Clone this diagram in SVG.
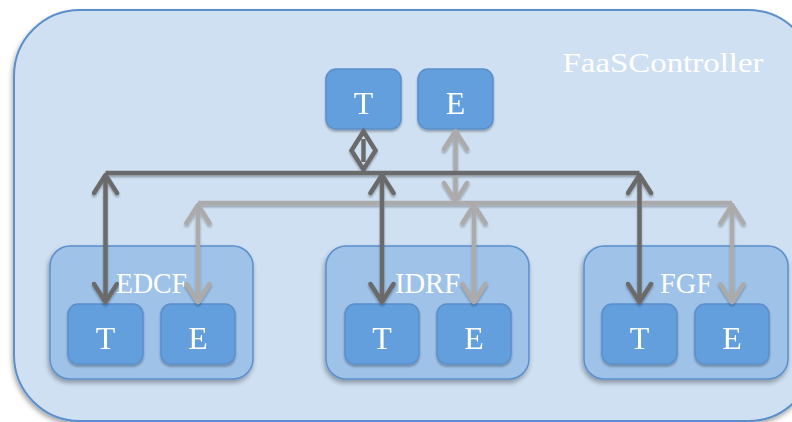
<svg xmlns="http://www.w3.org/2000/svg" width="792" height="422" viewBox="0 0 792 422">
<defs>
<filter id="sh" x="-20%" y="-20%" width="140%" height="150%">
<feGaussianBlur in="SourceAlpha" stdDeviation="2.5"/>
<feOffset dx="-1" dy="3" result="b"/>
<feComponentTransfer><feFuncA type="linear" slope="0.35"/></feComponentTransfer>
<feMerge><feMergeNode/><feMergeNode in="SourceGraphic"/></feMerge>
</filter>
<filter id="lsh" x="-10%" y="-10%" width="120%" height="130%">
<feGaussianBlur in="SourceAlpha" stdDeviation="1.2"/>
<feOffset dx="0" dy="2"/>
<feComponentTransfer><feFuncA type="linear" slope="0.3"/></feComponentTransfer>
<feMerge><feMergeNode/><feMergeNode in="SourceGraphic"/></feMerge>
</filter>
<marker id="ad" viewBox="0 0 28 28" refX="23" refY="14" markerWidth="28" markerHeight="28" markerUnits="userSpaceOnUse" orient="auto-start-reverse">
<path d="M5,2.5 L23,14 L5,25.5" fill="none" stroke="#6b6b6b" stroke-width="4.5" stroke-linecap="round" stroke-linejoin="round"/>
</marker>
<marker id="al" viewBox="0 0 28 28" refX="23" refY="14" markerWidth="28" markerHeight="28" markerUnits="userSpaceOnUse" orient="auto-start-reverse">
<path d="M5,2.5 L23,14 L5,25.5" fill="none" stroke="#ababab" stroke-width="4.5" stroke-linecap="round" stroke-linejoin="round"/>
</marker>
</defs>
<style>
.outer{fill:#cfe0f2;stroke:#5b8fcb;stroke-width:2}
.sub{fill:#9fc2e8;stroke:#5b8fcb;stroke-width:1.5}
.box{fill:#629fdc;stroke:#5b8fcb;stroke-width:1.5}
.lbl{font-family:"Liberation Serif","Times New Roman",serif;fill:#ffffff;text-anchor:middle}
.te{font-size:32px}
.sl{font-size:30px}
.dk{stroke:#6b6b6b;stroke-width:4.5;fill:none}
.lt{stroke:#ababab;stroke-width:4.5;fill:none}
</style>
<g id="FaaSController">
<rect class="outer" x="14" y="10" width="800" height="411" rx="66" ry="66" filter="url(#sh)"/>
<text class="lbl" x="663" y="72" font-size="28" textLength="201" lengthAdjust="spacingAndGlyphs">FaaSController</text>
</g>
<g id="topT" filter="url(#lsh)">
<rect class="box" x="326" y="69" width="75" height="60" rx="10"/>
<text class="lbl te" x="363.5" y="114">T</text>
</g>
<g id="topE" filter="url(#lsh)">
<rect class="box" x="418" y="69" width="75" height="60" rx="10"/>
<text class="lbl te" x="455.5" y="114">E</text>
</g>
<g id="EDCF">
<rect class="sub" x="50" y="246" width="203" height="133" rx="20" filter="url(#sh)"/>
<g id="EDCF-T" filter="url(#lsh)"><rect class="box" x="68" y="304" width="75" height="60" rx="10"/><text class="lbl te" x="105.5" y="349">T</text></g>
<g id="EDCF-E" filter="url(#lsh)"><rect class="box" x="161" y="304" width="74" height="60" rx="10"/><text class="lbl te" x="198" y="349">E</text></g>
</g>
<g id="IDRF">
<rect class="sub" x="326" y="246" width="203" height="133" rx="20" filter="url(#sh)"/>
<g id="IDRF-T" filter="url(#lsh)"><rect class="box" x="345" y="304" width="74" height="60" rx="10"/><text class="lbl te" x="382" y="349">T</text></g>
<g id="IDRF-E" filter="url(#lsh)"><rect class="box" x="437" y="304" width="74" height="60" rx="10"/><text class="lbl te" x="474" y="349">E</text></g>
</g>
<g id="FGF">
<rect class="sub" x="584" y="246" width="204" height="133" rx="20" filter="url(#sh)"/>
<g id="FGF-T" filter="url(#lsh)"><rect class="box" x="602" y="304" width="75" height="60" rx="10"/><text class="lbl te" x="639.5" y="349">T</text></g>
<g id="FGF-E" filter="url(#lsh)"><rect class="box" x="695" y="304" width="74" height="60" rx="10"/><text class="lbl te" x="732" y="349">E</text></g>
</g>
<g id="connectors" filter="url(#lsh)">
<path class="lt" d="M198,203 H732"/>
<line class="lt" x1="455.5" y1="131" x2="455.5" y2="201" marker-start="url(#al)" marker-end="url(#al)"/>
<line class="lt" x1="198" y1="205" x2="198" y2="302" marker-start="url(#al)" marker-end="url(#al)"/>
<line class="lt" x1="474" y1="205" x2="474" y2="302" marker-start="url(#al)" marker-end="url(#al)"/>
<line class="lt" x1="732" y1="205" x2="732" y2="302" marker-start="url(#al)" marker-end="url(#al)"/>
<path class="dk" d="M105.5,173 H639.5"/>
<path class="dk" d="M363.5,131.5 L375.5,150.5 L363.5,169.5 L351.5,150.5 Z" style="fill:#cfe0f2"/>
<line class="dk" x1="363.5" y1="139" x2="363.5" y2="162" stroke-width="4"/>
<line class="dk" x1="105.5" y1="175" x2="105.5" y2="302" marker-start="url(#ad)" marker-end="url(#ad)"/>
<line class="dk" x1="382" y1="175" x2="382" y2="302" marker-start="url(#ad)" marker-end="url(#ad)"/>
<line class="dk" x1="639.5" y1="175" x2="639.5" y2="302" marker-start="url(#ad)" marker-end="url(#ad)"/>
</g>
<g id="labels">
<text class="lbl sl" x="151.5" y="293" textLength="71" lengthAdjust="spacingAndGlyphs">EDCF</text>
<text class="lbl sl" x="427.5" y="293" textLength="65" lengthAdjust="spacingAndGlyphs">IDRF</text>
<text class="lbl sl" x="686" y="293" textLength="52" lengthAdjust="spacingAndGlyphs">FGF</text>
</g>
</svg>
